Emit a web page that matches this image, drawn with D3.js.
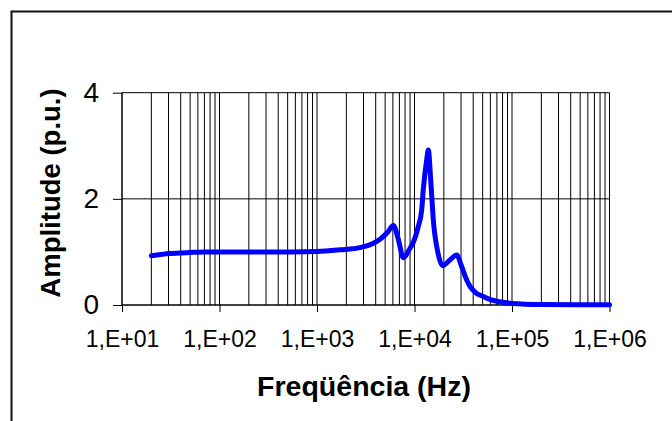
<!DOCTYPE html>
<html>
<head>
<meta charset="utf-8">
<script src="https://cdn.jsdelivr.net/npm/d3@7"></script>
<style>
  body { margin: 0; background: #fff; }
  svg { display: block; font-family: "Liberation Sans", Arial, sans-serif; }
</style>
</head>
<body>
<div id="chart"></div>
<script>
// frequency (Hz) and amplitude (p.u.)
const freqs = [20, 25, 30, 40, 50, 70, 100, 300, 1000, 1720, 2760, 3750, 4500, 5300, 6070, 6800, 7680, 8990, 9660,
  10940, 11850, 12300, 13340, 13860, 14660, 15600, 17400, 19450, 23100, 27100, 30500, 34300, 37100, 42000,
  50800, 60000, 75300, 100000, 200000, 500000, 1000000];
const amps = [0.93, 0.95, 0.97, 0.98, 0.99, 1.0, 1.0, 1.0, 1.01, 1.04, 1.08, 1.16, 1.25, 1.37, 1.50, 1.25, 0.89, 1.07, 1.17,
  1.48, 1.79, 2.17, 2.74, 2.92, 2.36, 1.6, 0.98, 0.74, 0.85, 0.94, 0.72, 0.47, 0.35, 0.24,
  0.16, 0.1, 0.06, 0.03, 0.01, 0.005, 0.005];
const yTicks = [0, 2, 4];
const xTicks = [1e1, 1e2, 1e3, 1e4, 1e5, 1e6];
const xTickLabels = ["1,E+01", "1,E+02", "1,E+03", "1,E+04", "1,E+05", "1,E+06"];

const W = 672, H = 421;
const plot = {left: 122, right: 609.5, top: 92.7, bottom: 305};

const svg = d3.select("#chart").append("svg")
    .attr("width", W)
    .attr("height", H);

// outer frame (runs off right and bottom edges)
svg.append("rect")
    .attr("x", 11.5).attr("y", 11.5)
    .attr("width", 700).attr("height", 500)
    .attr("fill", "none")
    .attr("stroke", "#111")
    .attr("stroke-width", 2);

const x = d3.scaleLog().domain([10, 1e6]).range([plot.left, plot.right]);
const y = d3.scaleLinear().domain([0, 4]).range([plot.bottom, plot.top]);

// vertical gridlines at every minor log step
let gridX = [];
for (let e = 1; e < 6; e++) {
    for (let k = 1; k < 10; k++) gridX.push(k * Math.pow(10, e));
}
gridX.push(1e6);

svg.append("g").selectAll("line")
    .data(gridX)
    .join("line")
    .attr("x1", d => x(d)).attr("x2", d => x(d))
    .attr("y1", plot.top).attr("y2", plot.bottom)
    .attr("stroke", "#000")
    .attr("stroke-width", 1);

// horizontal gridlines
svg.append("g").selectAll("line")
    .data(yTicks)
    .join("line")
    .attr("x1", plot.left).attr("x2", plot.right)
    .attr("y1", d => y(d)).attr("y2", d => y(d))
    .attr("stroke", "#000")
    .attr("stroke-width", 1);

// y axis
const yAxis = d3.axisLeft(y).tickValues(yTicks).tickSize(9).tickPadding(14).tickFormat(d3.format("d"));
const gy = svg.append("g")
    .attr("transform", `translate(${plot.left},0)`)
    .call(yAxis);
gy.select(".domain").attr("stroke", "#000").attr("d", `M0,${plot.top}V${plot.bottom}`);
gy.selectAll(".tick line").attr("stroke", "#000");
gy.selectAll(".tick text")
    .attr("font-size", 28)
    .attr("fill", "#000")
    .attr("font-family", "'Liberation Sans', Arial, sans-serif");

// x axis
const xAxis = d3.axisBottom(x).tickValues(xTicks).tickSize(7).tickPadding(19)
    .tickFormat((d, i) => xTickLabels[i]);
const gx = svg.append("g")
    .attr("transform", `translate(0,${plot.bottom})`)
    .call(xAxis);
gx.select(".domain").attr("stroke", "#000").attr("d", `M${plot.left},0H${plot.right}`);
gx.selectAll(".tick line").attr("stroke", "#000");
gx.selectAll(".tick text")
    .attr("font-size", 23)
    .attr("fill", "#000")
    .attr("font-family", "'Liberation Sans', Arial, sans-serif");

// curve
const data = freqs.map((f, i) => ({f: f, a: amps[i]}));
const line = d3.line()
    .x(d => x(d.f))
    .y(d => y(d.a))
    .curve(d3.curveMonotoneX);

svg.append("path")
    .datum(data)
    .attr("d", line)
    .attr("fill", "none")
    .attr("stroke", "#0000ff")
    .attr("stroke-width", 5)
    .attr("stroke-linejoin", "round")
    .attr("stroke-linecap", "round");

// axis titles
svg.append("text")
    .attr("x", 364).attr("y", 396)
    .attr("text-anchor", "middle")
    .attr("font-size", 28.5)
    .attr("font-weight", "bold")
    .text("Freqüência (Hz)");

svg.append("text")
    .attr("transform", "translate(60,193) rotate(-90)")
    .attr("text-anchor", "middle")
    .attr("font-size", 27.5)
    .attr("font-weight", "bold")
    .text("Amplitude (p.u.)");
</script>
</body>
</html>
